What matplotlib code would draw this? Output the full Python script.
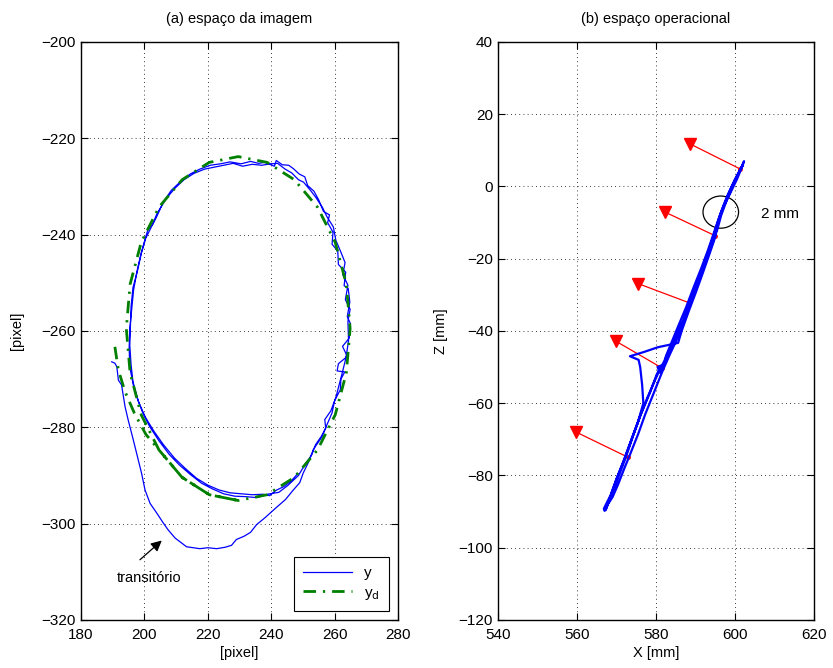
import matplotlib
matplotlib.use("Agg")
import matplotlib.pyplot as plt
from matplotlib.patches import Ellipse

plt.rcParams['font.family'] = ['Liberation Sans', 'DejaVu Sans']
plt.rcParams['font.size'] = 10.5

# (a) image space: desired trajectory y_d
yd_x = [190.7, 191.8, 193.9, 196.8, 200.5, 204.6, 211.9, 220.5, 229.6, 238.7, 247.3,
        254.6, 260.2, 263.7, 264.9, 263.7, 260.2, 254.6, 247.3, 238.7, 229.6, 220.5,
        211.9, 204.6, 199.0, 195.5, 194.3, 195.5, 199.0, 204.6, 211.9, 220.5, 229.6]
yd_y = [-263.3, -268.1, -272.6, -277.0, -281.5, -284.7, -290.4, -294.0, -295.2, -294.0,
        -290.4, -284.7, -277.4, -268.7, -259.5, -250.3, -241.6, -234.3, -228.6, -225.0,
        -223.8, -225.0, -228.6, -234.3, -241.6, -250.3, -259.5, -268.7, -277.4, -284.7,
        -290.4, -294.0, -295.2]

# (a) image space: measured trajectory y (transient + two loops)
y_x = [189.7, 190.7, 191.3, 191.8, 192.8, 193.9, 194.9, 196.5, 198.1, 199.1, 200.2, 201.8,
       203.9, 206.0, 207.5, 209.7, 213.3, 217.5, 220.0, 222.8, 225.5, 227.5, 229.0, 231.5,
       233.5, 235.4, 238.0, 241.7, 244.5, 247.0, 249.0, 250.1, 251.8, 253.3,
       256.0, 257.5, 259.2, 260.0, 261.8, 262.0, 263.2, 260.8, 261.2, 263.6, 264.4, 264.2,
       264.9, 263.4, 264.2, 262.6, 263.3, 261.9, 260.4, 259.6, 257.6, 256.2, 254.0, 252.5,
       250.2, 248.6, 246.5, 244.4, 242.0, 239.8, 237.0, 234.0, 231.0, 228.0, 225.0, 222.0,
       219.0, 215.6, 212.5, 209.6, 206.8, 204.0, 202.5, 200.4, 199.0, 197.8, 196.4, 195.8,
       195.6, 195.4, 195.8, 196.4, 197.8, 199.6, 201.8, 204.6, 207.8, 211.0, 214.5, 218.0,
       221.5, 225.0, 228.5, 232.0, 235.5, 238.8, 242.4, 245.2, 248.6, 250.4, 252.8, 254.0,
       255.8, 257.2, 256.9, 258.8, 260.4, 261.5, 262.6, 263.8, 262.5, 264.6, 265.0, 264.0,
       264.8, 264.3, 263.0, 263.5, 261.2, 261.0, 259.2, 259.5, 257.8, 258.4, 256.5, 255.0,
       253.5, 251.5, 250.6, 248.8, 247.0, 245.5, 243.5, 241.6, 241.0, 238.0, 236.0, 233.5,
       230.5, 227.0, 224.0, 220.8, 217.5, 214.5, 211.4, 208.5, 206.0, 203.8, 202.7, 201.1,
       200.2, 199.0, 197.7, 196.6, 196.0, 195.4, 195.2, 195.4, 196.5, 198.2, 200.4, 203.0,
       206.0, 209.5, 213.0, 216.5, 220.0, 223.5, 227.0, 230.5, 234.0, 237.5, 239.5, 241.5,
       244.0, 246.5, 248.4]
y_y = [-266.4, -266.7, -267.4, -270.2, -271.2, -275.7, -278.5, -282.6, -286.8, -289.5,
       -293.0, -295.8, -297.8, -299.9, -301.3, -303.0, -304.8, -305.2, -305.0, -305.2,
       -304.9, -304.5, -303.3, -302.6, -301.8, -300.2, -298.8, -296.6, -295.0, -293.0,
       -291.5, -289.5, -287.2, -284.6,
       -282.0, -279.6, -277.0, -274.5, -272.2, -270.0, -268.5, -268.3, -266.8, -265.5,
       -262.0, -258.0, -255.5, -253.5, -250.5, -248.3, -245.8, -243.5, -241.2, -238.4,
       -236.3, -234.4, -232.2, -230.9, -229.1, -228.6, -227.2, -226.4, -225.2, -225.3,
       -225.6, -225.4, -225.8, -225.2, -225.6, -226.0, -226.4, -227.3, -228.6, -230.4,
       -232.6, -235.6, -238.0, -240.8, -244.0, -247.6, -251.0, -255.0, -259.0, -263.0,
       -267.0, -270.5, -274.0, -277.2, -280.0, -282.8, -285.6, -287.8, -289.8, -291.6,
       -292.8, -293.8, -294.3, -294.4, -294.6, -293.9, -293.5, -292.1, -290.0, -288.0,
       -285.7, -283.6,
       -281.9, -280.2, -278.4, -276.6, -273.8, -271.0, -268.2, -265.0, -263.2, -261.5,
       -258.5, -257.0, -254.0, -251.2, -250.6, -247.8, -246.2, -243.4, -242.0, -239.5,
       -237.5, -235.9, -235.2, -232.8, -231.0, -229.8, -228.0, -227.4, -226.3, -225.6,
       -225.5, -224.6, -225.8, -225.0, -225.2, -224.8, -225.3, -224.9, -225.3, -225.6,
       -226.4, -227.4, -229.0, -230.8, -233.2, -236.4, -237.8, -239.0, -241.0, -243.8,
       -247.5, -251.5, -255.5, -259.5, -263.5, -267.5, -271.2, -274.8, -278.0, -280.8,
       -283.6, -286.4, -288.6, -290.6, -292.0, -293.0, -293.6, -293.8, -294.0, -293.9,
       -294.2, -293.1, -292.3, -291.0, -289.6]

# (b) operational space: end-effector path X, Z
op_x = [567.3, 567.8, 569.0, 570.4, 572.0, 573.5, 575.5, 577.3, 579.5, 581.5, 583.5, 585.0,
        586.8, 588.6, 590.6, 592.5, 594.0, 595.5, 596.5, 598.0, 599.8, 601.5, 602.3,
        601.8, 600.0, 598.3, 597.0, 595.6, 594.5, 592.8, 590.8, 588.9, 586.9, 585.3, 583.8,
        582.0, 580.2, 578.0, 576.0, 574.2, 572.5, 570.8, 569.3, 568.0, 567.0, 566.8, 567.8,
        568.5, 570.0, 571.8, 573.8, 575.5, 576.8, 576.5, 576.0, 575.6, 573.4, 577.0, 580.5,
        583.5, 585.6, 586.5, 588.3, 590.2, 592.0, 593.6, 595.0, 595.4, 596.5, 598.5, 600.5,
        602.0,
        601.0, 599.2, 597.8, 596.0, 594.6, 593.2, 591.5, 589.5, 587.6, 585.5, 584.0, 582.5,
        582.2, 581.0, 580.4, 581.4, 580.2, 578.5, 576.2, 574.0, 572.0, 570.0, 568.4, 567.5]
op_z = [-89.5, -88.0, -86.0, -82.5, -78.0, -74.0, -68.5, -63.0, -57.0, -51.5, -46.5, -43.0,
        -38.0, -32.5, -27.0, -21.0, -16.5, -12.0, -8.0, -3.5, 1.0, 5.0, 7.0,
        5.5, 2.0, -2.0, -5.5, -10.0, -14.0, -19.5, -25.5, -31.5, -37.0, -41.0, -44.5,
        -48.5, -52.5, -58.0, -63.5, -69.0, -74.5, -79.5, -84.0, -87.5, -89.8, -89.2, -87.0,
        -85.5, -81.0, -76.0, -70.0, -65.0, -60.0, -55.0, -50.0, -48.0, -47.0, -45.8, -44.5,
        -43.8, -43.3, -40.0, -34.5, -29.0, -23.5, -18.5, -14.0, -11.0, -7.0, -2.5, 2.0,
        6.0,
        4.0, 0.0, -3.5, -8.5, -13.0, -17.5, -22.5, -28.0, -33.5, -39.0, -43.0, -47.0,
        -49.0, -51.5, -50.0, -49.5, -52.0, -57.0, -63.0, -69.5, -75.5, -81.0, -86.0, -88.8]

# red arrows: base point on the path and triangle tip
arrow_base_x = [601.2, 594.9, 588.4, 581.6, 572.8]
arrow_base_z = [4.9, -13.6, -32.2, -50.3, -74.9]
arrow_tip_x = [588.6, 582.3, 575.5, 569.8, 559.8]
arrow_tip_z = [11.8, -7.1, -26.9, -42.8, -68.0]

fig = plt.figure(figsize=(8.33, 6.68), dpi=100)
ax1 = fig.add_axes([0.0972, 0.0719, 0.3806, 0.8653])
ax2 = fig.add_axes([0.5978, 0.0719, 0.3794, 0.8653])

ax1.plot(y_x, y_y, color='#0000ff', lw=0.9, label='y')
ax1.plot(yd_x, yd_y, color='#008000', lw=2.0, ls=(0, (4.5, 2.5, 0.8, 2.5)), label='y$_\\mathrm{d}$')
ax1.set_xlim(180, 280)
ax1.set_ylim(-320, -200)
ax1.set_xticks(range(180, 281, 20))
ax1.set_yticks(range(-320, -199, 20))
ax1.set_xlabel('[pixel]', labelpad=3)
ax1.set_ylabel('[pixel]', labelpad=13)
ax1.set_title('(a) espaço da imagem', fontsize=10.5, pad=14)
leg = ax1.legend(loc='lower right', fancybox=False, edgecolor='k', framealpha=1,
                 handlelength=3.2, fontsize=11, borderpad=0.6, labelspacing=0.35,
                 borderaxespad=0.6)
leg.get_frame().set_linewidth(0.8)
ax1.text(201.5, -311.3, 'transitório', ha='center', va='center', fontsize=10.5)
ax1.annotate('', xy=(205.5, -303.5), xytext=(198.6, -307.5),
             arrowprops=dict(arrowstyle='-|>', color='k', lw=0.9, mutation_scale=16,
                             shrinkA=0, shrinkB=0))

for bx, bz, tx, tz in zip(arrow_base_x, arrow_base_z, arrow_tip_x, arrow_tip_z):
    ax2.plot([bx, tx], [bz, tz], color='red', lw=0.9)
    ax2.plot(tx, tz, marker='v', color='red', markersize=9, ls='none')
    ax2.plot(bx, bz, marker='o', color='red', markersize=2.5, ls='none')
ax2.plot(op_x, op_z, color='#0000ff', lw=1.6)
ax2.add_patch(Ellipse((596.4, -7.1), 9.0, 8.9, fill=False, edgecolor='k', lw=0.9))
ax2.text(606.6, -7.6, '2 mm', ha='left', va='center', fontsize=11)
ax2.set_xlim(540, 620)
ax2.set_ylim(-120, 40)
ax2.set_xticks(range(540, 621, 20))
ax2.set_yticks(range(-120, 41, 20))
ax2.set_xlabel('X [mm]', labelpad=3)
ax2.set_ylabel('Z [mm]', labelpad=8)
ax2.set_title('(b) espaço operacional', fontsize=10.5, pad=14)

for ax in (ax1, ax2):
    ax.grid(True, color='k', ls=(0, (1, 4)), lw=0.6)
    ax.tick_params(direction='in', top=True, right=True, length=5, width=0.8, labelsize=11)
    ax.tick_params(axis='x', pad=6)
    for s in ax.spines.values():
        s.set_linewidth(1.0)

fig.savefig('out.png', dpi=100)
